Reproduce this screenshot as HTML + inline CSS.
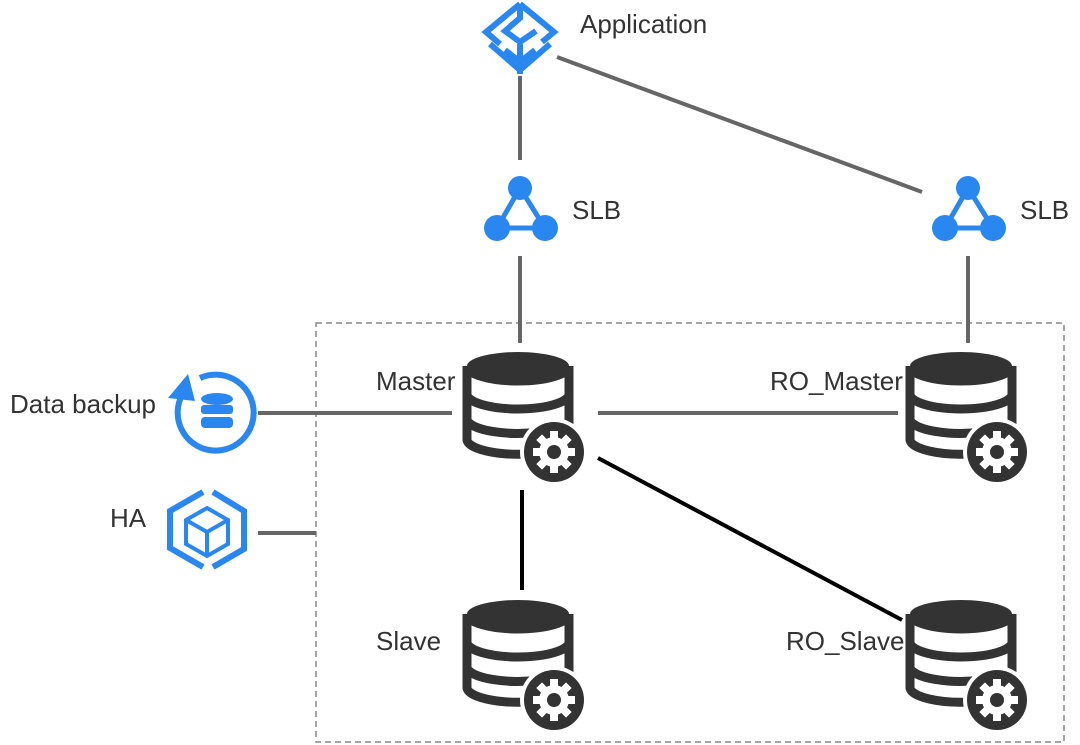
<!DOCTYPE html>
<html><head><style>body{margin:0;background:#fff}svg{display:block}text{font-family:"Liberation Sans",sans-serif;font-size:26px;fill:#333}</style></head><body>
<svg width="1080" height="745" viewBox="0 0 1080 745">
<defs>
<g id="db">
<path d="M0,14 V88 A51,15 0 0 0 60,102" fill="none" stroke="#333" stroke-width="9"/>
<path d="M102,14 V72" stroke="#333" stroke-width="9"/>
<path d="M0,14 A51,15 0 0 0 102,14" fill="none" stroke="#333" stroke-width="9"/>
<path d="M0,42 A51,15 0 0 0 102,42" fill="none" stroke="#333" stroke-width="9"/>
<path d="M0,68 A51,15 0 0 0 72,80" fill="none" stroke="#333" stroke-width="9"/>
<ellipse cx="51" cy="14" rx="51" ry="14" fill="#333"/>
<circle cx="87" cy="100" r="34" fill="#fff"/>
<circle cx="87" cy="100" r="30" fill="#333"/>
<g transform="translate(87,100)" fill="#fff">
<circle r="15"/>
<rect x="-4" y="-21" width="8" height="42"/>
<rect x="-4" y="-21" width="8" height="42" transform="rotate(45)"/>
<rect x="-4" y="-21" width="8" height="42" transform="rotate(90)"/>
<rect x="-4" y="-21" width="8" height="42" transform="rotate(135)"/>
<circle r="7" fill="#333"/>
</g>
</g>
<g id="slb" fill="#2b87f0">
<path d="M0,0 L-23,40 L25,40 Z" fill="none" stroke="#2b87f0" stroke-width="5"/>
<circle cx="0" cy="0" r="12"/><circle cx="-23" cy="40" r="13"/><circle cx="25" cy="40" r="13"/>
</g>
</defs>
<rect x="316" y="323" width="748" height="419" fill="none" stroke="#888" stroke-width="1.5" stroke-dasharray="6,4"/>
<g stroke="#666" stroke-width="4">
<line x1="520" y1="76" x2="520" y2="160"/>
<line x1="557" y1="57" x2="922" y2="192"/>
<line x1="520" y1="256" x2="520" y2="343"/>
<line x1="968" y1="256" x2="968" y2="343"/>
<line x1="258" y1="413" x2="452" y2="413"/>
<line x1="598" y1="413" x2="898" y2="413"/>
<line x1="258" y1="533" x2="316" y2="533"/>
</g>
<g stroke="#000" stroke-width="4">
<line x1="522" y1="490" x2="522" y2="590"/>
<line x1="598" y1="458" x2="902" y2="620"/>
</g>
<!-- application -->
<g fill="none" stroke="#2b87f0" stroke-width="6" stroke-linejoin="miter">
<path d="M520,4 L486,32 L500,44"/>
<path d="M520,4 L554,32 L542,42"/>
<path d="M520,4 V18 L505,31 L520,42 L536,31"/>
<path d="M490,44 L520,70 L550,44"/>
<path d="M520,44 V74"/>
<path d="M505,50 L520,62 L535,50"/>
</g>
<text x="580" y="33">Application</text>
<use href="#slb" x="520" y="188"/>
<use href="#slb" x="968" y="188"/>
<text x="572" y="219">SLB</text>
<text x="1020" y="219">SLB</text>
<use href="#db" x="467" y="352"/>
<use href="#db" x="910" y="352"/>
<use href="#db" x="467" y="600"/>
<use href="#db" x="910" y="600"/>
<text x="376" y="390">Master</text>
<text x="770" y="390">RO_Master</text>
<text x="376" y="650">Slave</text>
<text x="786" y="650">RO_Slave</text>
<!-- data backup -->
<path d="M200,378 A38,38 0 1 1 182,395" fill="none" stroke="#2b87f0" stroke-width="6"/>
<path d="M168,398 L188,374 L195,401 Z" fill="#2b87f0"/>
<g fill="#2b87f0">
<ellipse cx="217" cy="399" rx="16" ry="6"/>
<rect x="201" y="405" width="32" height="9" rx="3"/>
<rect x="201" y="417" width="32" height="11" rx="4"/>
</g>
<text x="10" y="413">Data backup</text>
<!-- HA -->
<g fill="none" stroke="#2b87f0" stroke-width="6">
<path d="M203,492 L170,511 V548 L203,567 M213,567 L244,549 V511 L213,492"/>
<path d="M207,508 L228,520 V544 L207,556 L186,544 V520 Z M186,520 L207,532 L228,520 M207,532 V556" stroke-width="4"/>
</g>
<text x="110" y="527">HA</text>
</svg>
</body></html>
